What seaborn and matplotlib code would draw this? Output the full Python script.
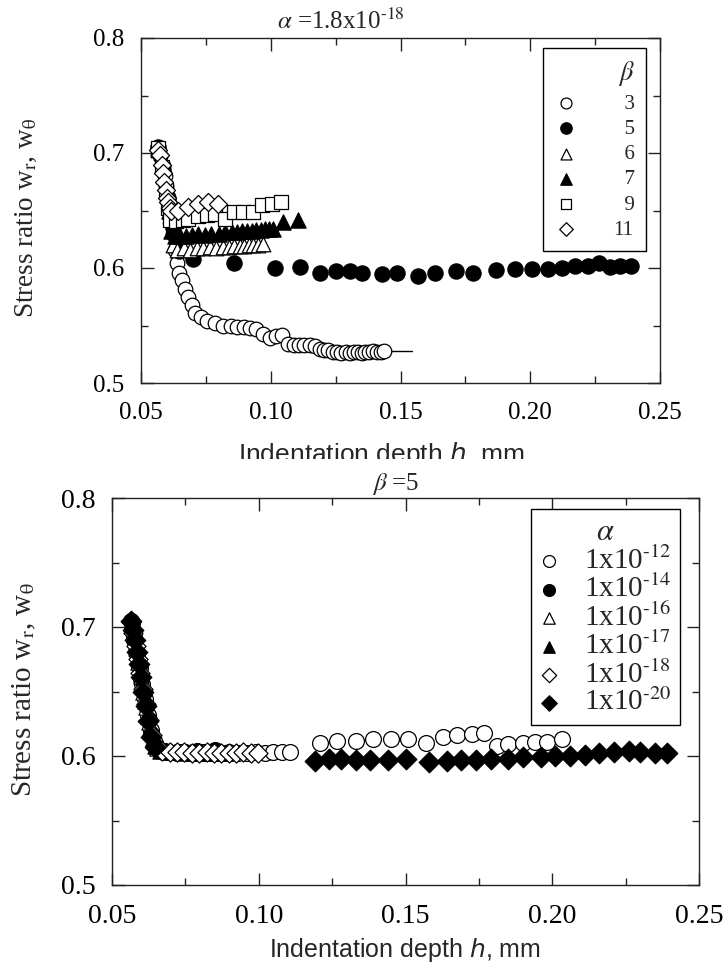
import numpy as np
import pandas as pd
import seaborn as sns
import matplotlib
matplotlib.use("Agg")
import matplotlib.pyplot as plt
from matplotlib.ticker import MultipleLocator, FormatStrFormatter
from matplotlib.patches import Rectangle

# ---------------- data: alpha = 1.8e-18, varying beta ----------------
beta_labels = ["3", "5", "6", "7", "9", "11"]

b3_h = [0.0566, 0.0575, 0.0583, 0.0591, 0.0598, 0.0604, 0.0610, 0.0615, 0.0622, 0.0630,
        0.0637, 0.0647, 0.0657, 0.0670, 0.0682, 0.0695, 0.0708, 0.0730, 0.0754, 0.0785,
        0.0816, 0.0845, 0.0870, 0.0895, 0.0920, 0.0945, 0.0970, 0.0997, 0.1020, 0.1042,
        0.1066, 0.1090, 0.1110, 0.1130, 0.1150, 0.1170, 0.1190, 0.1205, 0.1220, 0.1240,
        0.1255, 0.1270, 0.1290, 0.1305, 0.1320, 0.1335, 0.1350, 0.1365, 0.1380, 0.1395,
        0.1410, 0.1425, 0.1437]
b3_w = [0.704, 0.697, 0.689, 0.680, 0.671, 0.662, 0.652, 0.642, 0.630, 0.616,
        0.604, 0.596, 0.590, 0.582, 0.575, 0.568, 0.561, 0.557, 0.554, 0.552,
        0.550, 0.550, 0.549, 0.549, 0.548, 0.547, 0.543, 0.539, 0.541, 0.542,
        0.534, 0.533, 0.533, 0.533, 0.533, 0.532, 0.530, 0.529, 0.529, 0.527,
        0.527, 0.526, 0.527, 0.526, 0.527, 0.527, 0.526, 0.527, 0.527, 0.528,
        0.527, 0.527, 0.528]
b3_fit_h = [0.1380, 0.1545]
b3_fit_w = [0.528, 0.528]

b5_h = [0.0566, 0.0585, 0.0605, 0.0625, 0.0648, 0.0700, 0.0858, 0.1017, 0.1113, 0.1190,
        0.1250, 0.1306, 0.1350, 0.1429, 0.1487, 0.1567, 0.1633, 0.1714, 0.1779, 0.1868,
        0.1941, 0.2007, 0.2068, 0.2122, 0.2172, 0.2223, 0.2265, 0.2307, 0.2346, 0.2388]
b5_w = [0.705, 0.685, 0.660, 0.635, 0.615, 0.608, 0.604, 0.600, 0.601, 0.596,
        0.597, 0.597, 0.596, 0.595, 0.596, 0.593, 0.596, 0.597, 0.596, 0.598,
        0.599, 0.599, 0.599, 0.600, 0.6015, 0.602, 0.604, 0.601, 0.6015, 0.6015]

b6_h = [0.0566, 0.0590, 0.0610, 0.0622, 0.0640, 0.0665, 0.0690, 0.0715, 0.0740, 0.0765,
        0.0790, 0.0815, 0.0840, 0.0860, 0.0880, 0.0898, 0.0915, 0.0932, 0.0950, 0.0970]
b6_w = [0.703, 0.680, 0.645, 0.620, 0.616, 0.617, 0.616, 0.617, 0.617, 0.618,
        0.617, 0.618, 0.618, 0.619, 0.619, 0.619, 0.620, 0.620, 0.620, 0.621]

b7_h = [0.0566, 0.0590, 0.0608, 0.0615, 0.0630, 0.0650, 0.0672, 0.0695, 0.0720, 0.0745,
        0.0770, 0.0800, 0.0825, 0.0850, 0.0870, 0.0890, 0.0910, 0.0928, 0.0945, 0.0962,
        0.0978, 0.0994, 0.1010, 0.1047, 0.1105]
b7_w = [0.704, 0.680, 0.650, 0.632, 0.628, 0.628, 0.628, 0.629, 0.630, 0.629,
        0.630, 0.630, 0.631, 0.631, 0.631, 0.632, 0.632, 0.632, 0.633, 0.633,
        0.634, 0.634, 0.634, 0.640, 0.642]

b9_h = [0.0566, 0.0580, 0.0595, 0.0605, 0.0612, 0.0635, 0.0660, 0.0682, 0.0721, 0.0753,
        0.0785, 0.0824, 0.0858, 0.0894, 0.0930, 0.0965, 0.1004, 0.1038]
b9_w = [0.704, 0.688, 0.668, 0.652, 0.642, 0.641, 0.642, 0.643, 0.645, 0.646,
        0.647, 0.643, 0.649, 0.649, 0.649, 0.655, 0.656, 0.657]

b11_h = [0.0566, 0.0573, 0.0580, 0.0585, 0.0590, 0.0597, 0.0600, 0.0605, 0.0610, 0.0617,
         0.0644, 0.0682, 0.0721, 0.0759, 0.0798]
b11_w = [0.703, 0.698, 0.690, 0.683, 0.675, 0.668, 0.661, 0.657, 0.652, 0.650,
         0.650, 0.653, 0.656, 0.657, 0.656]

# ---------------- data: beta = 5, varying alpha ----------------
alpha_labels = [r"1x10$^{\text{-12}}$", r"1x10$^{\text{-14}}$", r"1x10$^{\text{-16}}$",
                r"1x10$^{\text{-17}}$", r"1x10$^{\text{-18}}$", r"1x10$^{\text{-20}}$"]

a12_h = [0.0568, 0.0576, 0.0585, 0.0594, 0.0603, 0.0612, 0.0622, 0.0633, 0.0645, 0.0662,
         0.0690, 0.0720, 0.0750, 0.0780, 0.0810, 0.0840, 0.0870, 0.0900, 0.0930, 0.0960,
         0.0990, 0.1020, 0.1050, 0.1080, 0.1105, 0.1210, 0.1267, 0.1331, 0.1389, 0.1451,
         0.1508, 0.1570, 0.1628, 0.1675, 0.1727, 0.1767, 0.1812, 0.1849, 0.1900, 0.1941,
         0.1982, 0.2033]
a12_w = [0.703, 0.692, 0.680, 0.668, 0.656, 0.644, 0.632, 0.620, 0.610, 0.605,
         0.603, 0.603, 0.603, 0.602, 0.603, 0.603, 0.602, 0.603, 0.602, 0.602,
         0.603, 0.602, 0.603, 0.603, 0.603, 0.610, 0.612, 0.612, 0.613, 0.613,
         0.613, 0.610, 0.6145, 0.616, 0.617, 0.618, 0.608, 0.609, 0.610, 0.6105,
         0.611, 0.613]

a14_h = [0.0566, 0.0572, 0.0579, 0.0586, 0.0593, 0.0600, 0.0608, 0.0616, 0.0625, 0.0634,
         0.0645, 0.0680, 0.0730, 0.0790, 0.0850]
a14_w = [0.705, 0.697, 0.688, 0.679, 0.670, 0.660, 0.650, 0.639, 0.628, 0.617,
         0.608, 0.604, 0.603, 0.604, 0.605]

a16_h = [0.0567, 0.0574, 0.0582, 0.0590, 0.0598, 0.0607, 0.0616, 0.0626, 0.0638, 0.0655,
         0.0680, 0.0705, 0.0730, 0.0755, 0.0780, 0.0805, 0.0830, 0.0855, 0.0880]
a16_w = [0.704, 0.694, 0.684, 0.673, 0.662, 0.650, 0.638, 0.626, 0.614, 0.606,
         0.604, 0.603, 0.603, 0.603, 0.602, 0.602, 0.602, 0.603, 0.602]

a17_h = [0.0567, 0.0573, 0.0580, 0.0588, 0.0596, 0.0604, 0.0613, 0.0622, 0.0632, 0.0645,
         0.0665, 0.0690, 0.0715, 0.0740, 0.0765, 0.0790, 0.0815, 0.0840, 0.0865, 0.0890]
a17_w = [0.705, 0.696, 0.687, 0.677, 0.666, 0.655, 0.643, 0.631, 0.619, 0.608,
         0.604, 0.603, 0.603, 0.602, 0.603, 0.602, 0.602, 0.602, 0.603, 0.602]

a18_h = [0.0566, 0.0573, 0.0581, 0.0589, 0.0597, 0.0606, 0.0615, 0.0625, 0.0636, 0.0650,
         0.0672, 0.0697, 0.0722, 0.0747, 0.0772, 0.0797, 0.0822, 0.0847, 0.0872, 0.0897,
         0.0922, 0.0947, 0.0972, 0.0997]
a18_w = [0.704, 0.695, 0.685, 0.675, 0.664, 0.652, 0.640, 0.628, 0.616, 0.607,
         0.604, 0.603, 0.603, 0.603, 0.602, 0.602, 0.603, 0.602, 0.602, 0.602,
         0.602, 0.603, 0.602, 0.602]

a20_h = [0.0566, 0.0572, 0.0578, 0.0585, 0.0592, 0.0599, 0.0607, 0.0615, 0.0624, 0.0634,
         0.0645, 0.1190, 0.1240, 0.1280, 0.1330, 0.1380, 0.1440, 0.1500, 0.1580, 0.1640,
         0.1690, 0.1740, 0.1790, 0.1850, 0.1900, 0.1960, 0.2010, 0.2060, 0.2110, 0.2160,
         0.2210, 0.2260, 0.2300, 0.2350, 0.2390]
a20_w = [0.705, 0.698, 0.690, 0.681, 0.671, 0.661, 0.650, 0.639, 0.627, 0.615,
         0.607, 0.596, 0.598, 0.598, 0.597, 0.597, 0.597, 0.598, 0.595, 0.596,
         0.597, 0.597, 0.598, 0.598, 0.599, 0.599, 0.600, 0.600, 0.601, 0.602,
         0.603, 0.604, 0.603, 0.602, 0.602]

# ---------------- figure ----------------
sns.set_style("ticks")
plt.rcParams["font.family"] = ["Liberation Serif", "DejaVu Serif"]
plt.rcParams["mathtext.fontset"] = "stix"

W, H = 726, 976
fig = plt.figure(figsize=(W / 100, H / 100), dpi=100)


def axes_px(left, top, right, bottom):
    return fig.add_axes([left / W, 1 - bottom / H, (right - left) / W, (bottom - top) / H])


def fig_xy(x, y):
    return x / W, 1 - y / H


ax1 = axes_px(141, 38, 660, 383)
ax2 = axes_px(112, 498, 699, 885)

STYLES = [("o", False, 110), ("o", True, 120), ("^", False, 110),
          ("^", True, 120), ("s", False, 95), ("D", False, 85)]
STYLES2 = [("o", False, 130), ("o", True, 130), ("^", False, 120),
           ("^", True, 120), ("D", False, 95), ("D", True, 110)]


def draw(ax, h, w, style, label):
    marker, filled, size = style
    df = pd.DataFrame({"h": h, "w": w})
    sns.scatterplot(data=df, x="h", y="w", ax=ax, marker=marker, s=size,
                    color="black" if filled else "white", edgecolor="black",
                    linewidth=0.9, label=label, legend=False, zorder=3)


top_series = [(b3_h, b3_w), (b5_h, b5_w), (b6_h, b6_w),
              (b7_h, b7_w), (b9_h, b9_w), (b11_h, b11_w)]
for (h, w), st, lab in zip(top_series, STYLES, beta_labels):
    draw(ax1, h, w, st, lab)
sns.lineplot(x=b3_fit_h, y=b3_fit_w, ax=ax1, color="black", linewidth=1.0, zorder=2)

bot_series = [(a12_h, a12_w), (a14_h, a14_w), (a16_h, a16_w),
              (a17_h, a17_w), (a18_h, a18_w), (a20_h, a20_w)]
for (h, w), st, lab in zip(bot_series, STYLES2, alpha_labels):
    draw(ax2, h, w, st, lab)

for ax, tsize in ((ax1, 18), (ax2, 20)):
    ax.set_xlim(0.05, 0.25)
    ax.set_ylim(0.5, 0.8)
    ax.xaxis.set_major_locator(MultipleLocator(0.05))
    ax.xaxis.set_minor_locator(MultipleLocator(0.025))
    ax.yaxis.set_major_locator(MultipleLocator(0.1))
    ax.yaxis.set_minor_locator(MultipleLocator(0.05))
    ax.xaxis.set_major_formatter(FormatStrFormatter("%.2f"))
    ax.yaxis.set_major_formatter(FormatStrFormatter("%.1f"))
    ax.tick_params(which="both", direction="in", top=True, right=True,
                   colors="#222222", labelcolor="black", labelsize=tsize)
    ax.tick_params(which="major", length=9, width=1.0)
    ax.tick_params(which="minor", length=5, width=1.0)
    ax.tick_params(axis="x", which="major", pad=14)
    ax.tick_params(axis="y", which="major", pad=12)
    ax.set_xlabel("")
    ax.set_ylabel("")
    for sp in ax.spines.values():
        sp.set_color("#222222")
        sp.set_linewidth(1.0)

# legends
h1, l1 = ax1.get_legend_handles_labels()
l1 = [("\u2007" + s) if len(s) == 1 else s for s in l1]
leg1 = ax1.legend(h1, l1, title=r"$\beta$", loc="upper right",
                  bbox_to_anchor=(0.973, 0.971), borderaxespad=0.0,
                  frameon=True, fancybox=False,
                  edgecolor="black", framealpha=1, fontsize=15, title_fontsize=19,
                  markerscale=0.75, handletextpad=1.75, labelspacing=0.27,
                  borderpad=0.55, handlelength=1.1, alignment="right")
leg1.get_frame().set_linewidth(1.0)

h2, l2 = ax2.get_legend_handles_labels()
leg2 = ax2.legend(h2, l2, title=r"$\alpha$", loc="upper left",
                  bbox_to_anchor=(0.714, 0.972), borderaxespad=0.0,
                  frameon=True, fancybox=False,
                  edgecolor="black", framealpha=1, fontsize=21, title_fontsize=22,
                  markerscale=0.75, handletextpad=0.9, labelspacing=0.0,
                  borderpad=0.3, handlelength=0.6)
leg2.get_frame().set_linewidth(1.0)

# titles and axis labels
fig.text(*fig_xy(341, 21), r"$\alpha$ =1.8x10$^{\text{-18}}$", ha="center", va="center",
         fontsize=18)
fig.text(*fig_xy(396, 484), r"$\beta$ =5", ha="center", va="center", fontsize=18)

ylab = "Stress ratio w$_{\\mathrm{r}}$, w$_{\\mathrm{\\theta}}$"
fig.text(*fig_xy(26, 218), ylab, rotation=90, ha="center", va="center", fontsize=19.5)
fig.text(*fig_xy(24, 690), ylab, rotation=90, ha="center", va="center", fontsize=21)

xlab = "Indentation depth $h$, mm"
fig.text(*fig_xy(381, 462), xlab, ha="center", va="baseline", fontsize=19,
         family="Liberation Sans", math_fontfamily="dejavusans")
fig.text(*fig_xy(405, 950), xlab, ha="center", va="center", fontsize=18,
         family="Liberation Sans", math_fontfamily="dejavusans")

# the lower panel header overlaps the foot of the upper x-label
fig.add_artist(Rectangle(fig_xy(100, 472), 600 / W, 13 / H, transform=fig.transFigure,
                         facecolor="white", edgecolor="none", zorder=5))

fig.savefig("out.png", dpi=100)
